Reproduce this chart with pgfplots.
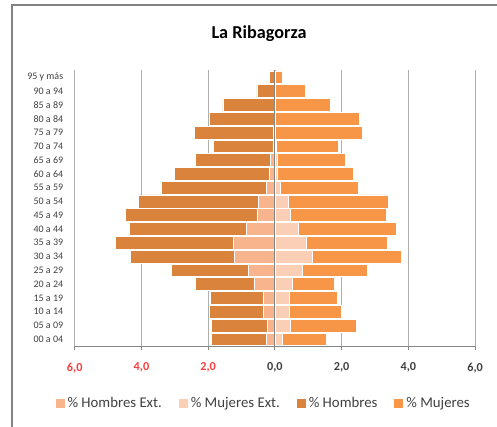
\documentclass[border=0pt]{standalone}
\usepackage{pgfplots}
\pgfplotsset{compat=1.18}
\usepackage{fontspec}
\setmainfont{Carlito}
\definecolor{hom}{RGB}{218,131,60}
\definecolor{muj}{RGB}{247,150,70}
\definecolor{homext}{RGB}{248,180,140}
\definecolor{mujext}{RGB}{251,207,182}
\definecolor{gridc}{RGB}{175,175,175}
\definecolor{axc}{RGB}{134,134,134}
\definecolor{negred}{RGB}{250,60,60}
\definecolor{txt}{RGB}{64,64,64}
\definecolor{framec}{RGB}{130,130,130}
\begin{document}
\begin{tikzpicture}[x=1pt,y=1pt]
\useasboundingbox (0,0) rectangle (497,427);
\draw[framec, line width=1.5pt] (12,-20) -- (12,422) -- (520,422);
\node[font=\fontsize{18.2}{20}\selectfont\bfseries, text=black] at (259,393) {La Ribagorza};
\begin{axis}[
  at={(74.7pt,80.8pt)}, anchor=south west,
  scale only axis, width=400.4pt, height=275.8pt,
  xmin=-6, xmax=6, ymin=-0.5, ymax=19.5,
  axis lines*=left,
  y axis line style={draw=none},
  x axis line style={axc, line width=0.9pt},
  xtick={-6,-4,-2,0,2,4,6},
  xticklabels={{\textcolor{negred}{6,0}},{\textcolor{negred}{4,0}},{\textcolor{negred}{2,0}},{0,0},{2,0},{4,0},{6,0}},
  xtick align=outside,
  major tick length=4pt,
  x tick style={axc, line width=0.9pt},
  ytick={0,...,19},
  yticklabels={00 a 04,05 a 09,10 a 14,15 a 19,20 a 24,25 a 29,30 a 34,35 a 39,40 a 44,45 a 49,50 a 54,55 a 59,60 a 64,65 a 69,70 a 74,75 a 79,80 a 84,85 a 89,90 a 94,95 y más},
  y tick style={draw=none},
  xmajorgrids,
  major grid style={gridc, line width=0.8pt},
  xticklabel style={font=\fontsize{12.2}{14}\selectfont\bfseries, text=txt, yshift=-9pt},
  yticklabel style={font=\fontsize{10}{12}\selectfont, text=txt, xshift=-8pt},
  legend columns=4,
  legend style={at={(0.472,-0.206)}, anchor=center, draw=none, fill=none,
    font=\fontsize{14.8}{16}\selectfont, text=txt,
    /tikz/every odd column/.append style={column sep=1.5pt},
    /tikz/every even column/.append style={column sep=15pt}},
]
\addplot[xbar, bar width=12.8pt, bar shift=0pt, fill=hom, draw=white, line width=0.6pt, forget plot] coordinates {
(-1.90,0) (-1.90,1) (-1.96,2) (-1.93,3) (-2.39,4) (-3.10,5) (-4.32,6) (-4.78,7) (-4.35,8) (-4.47,9)
(-4.09,10) (-3.41,11) (-3.01,12) (-2.39,13) (-1.85,14) (-2.42,15) (-1.96,16) (-1.56,17) (-0.54,18) (-0.16,19)};
\addplot[xbar, bar width=12.8pt, bar shift=0pt, fill=muj, draw=white, line width=0.6pt, forget plot] coordinates {
(1.54,0) (2.44,1) (1.99,2) (1.88,3) (1.79,4) (2.78,5) (3.80,6) (3.36,7) (3.64,8) (3.33,9)
(3.40,10) (2.50,11) (2.35,12) (2.12,13) (1.91,14) (2.62,15) (2.53,16) (1.66,17) (0.91,18) (0.23,19)};
\addplot[xbar, bar width=12.8pt, bar shift=0pt, fill=homext, draw=white, line width=0.6pt, forget plot] coordinates {
(-0.26,0) (-0.23,1) (-0.35,2) (-0.36,3) (-0.63,4) (-0.79,5) (-1.21,6) (-1.24,7) (-0.85,8) (-0.54,9)
(-0.50,10) (-0.26,11) (-0.16,12) (-0.13,13) (-0.06,14) (-0.04,15) (0,16) (0,17) (0,18) (0,19)};
\addplot[xbar, bar width=12.8pt, bar shift=0pt, fill=mujext, draw=white, line width=0.6pt, forget plot] coordinates {
(0.21,0) (0.45,1) (0.42,2) (0.42,3) (0.51,4) (0.83,5) (1.13,6) (0.95,7) (0.70,8) (0.45,9)
(0.39,10) (0.16,11) (0.07,12) (0.07,13) (0.04,14) (0.02,15) (0,16) (0,17) (0,18) (0,19)};
\draw[axc, line width=0.9pt] (axis cs:0,-0.5) -- (axis cs:0,19.5);
\addlegendimage{legend image code/.code={\fill[homext] (0pt,-4pt) rectangle (8pt,4pt);}}
\addlegendentry{\% Hombres Ext.}
\addlegendimage{legend image code/.code={\fill[mujext] (0pt,-4pt) rectangle (8pt,4pt);}}
\addlegendentry{\% Mujeres Ext.}
\addlegendimage{legend image code/.code={\fill[hom] (0pt,-4pt) rectangle (8pt,4pt);}}
\addlegendentry{\% Hombres}
\addlegendimage{legend image code/.code={\fill[muj] (0pt,-4pt) rectangle (8pt,4pt);}}
\addlegendentry{\% Mujeres}
\end{axis}
\end{tikzpicture}
\end{document}
